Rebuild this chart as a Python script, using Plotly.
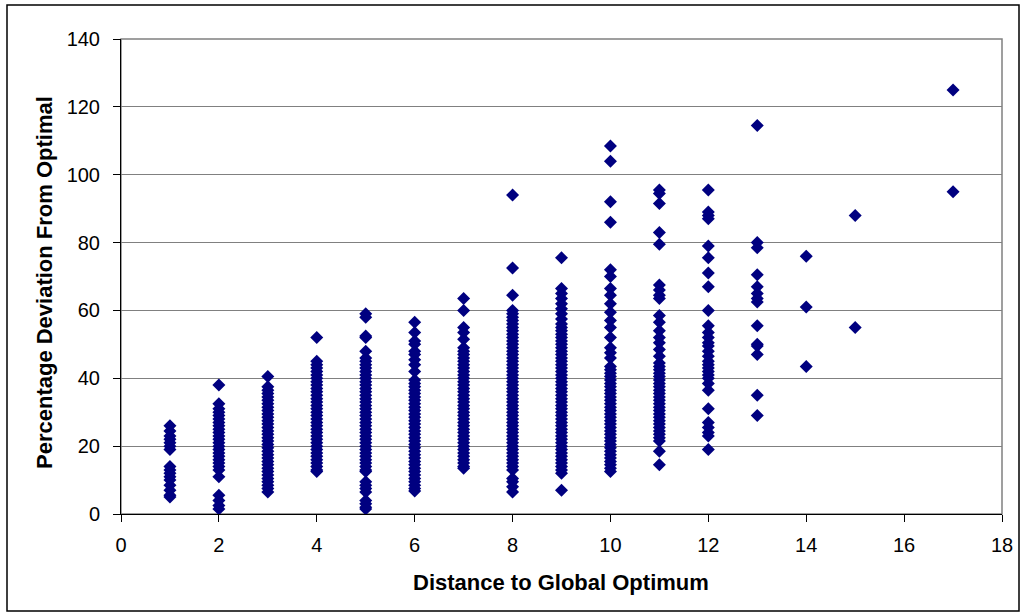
import plotly.graph_objects as go

# Percentage deviation from optimal, grouped by distance to the global optimum
dev_d1 = [26, 24.5, 23, 22, 21, 20, 19, 14, 13, 12, 11, 10, 8.5, 7, 5.5, 5]
dev_d2 = [38, 32.5, 31, 30, 29, 28, 27, 26, 25, 24, 23, 22, 21, 20, 19, 18, 17,
          16, 15, 14, 13, 11, 5.5, 4, 2.5, 1.5]
dev_d3 = [40.5, 37.5, 36.5, 35.5, 34.5, 33.5, 32.5, 31.5, 30.5, 29.5, 28.5, 27.5,
          26.5, 25.5, 24.5, 23.5, 22.5, 21.5, 20.5, 19.5, 18.5, 17.5, 16.5, 15.5,
          14.5, 13.5, 12.5, 11.5, 10.5, 9.5, 8.5, 7.5, 6.5]
dev_d4 = [52, 45, 44, 43, 42, 41, 40, 39, 38, 37, 36, 35, 34, 33, 32, 31, 30, 29,
          28, 27, 26, 25, 24, 23, 22, 21, 20, 19, 18, 17, 16, 15, 14, 13, 12.5]
dev_d5 = [59, 58, 52.5, 52, 48, 46, 45, 44, 43, 42, 41, 40, 39, 38, 37, 36, 35, 34,
          33, 32, 31, 30, 29, 28, 27, 26, 25, 24, 23, 22, 21, 20, 19, 18, 17, 16,
          15, 14, 13, 12.5, 9.5, 8.5, 7.5, 6.5, 4, 3, 2, 1.5]
dev_d6 = [56.5, 53.5, 51, 50, 48, 47, 45.5, 44, 42, 39.5, 38.5, 37.5, 36.5, 35.5,
          34.5, 33.5, 32.5, 31.5, 30.5, 29.5, 28.5, 27.5, 26.5, 25.5, 24.5, 23.5,
          22.5, 21.5, 20.5, 19.5, 18.5, 17.5, 16.5, 15.5, 14.5, 13.5, 12.5, 11.5,
          10.5, 9.5, 8.5, 7.5, 6.8]
dev_d7 = [63.5, 60, 55, 53.5, 51.5, 49, 48, 47, 46, 45, 44, 43, 42, 41, 40, 39, 38,
          37, 36, 35, 34, 33, 32, 31, 30, 29, 28, 27, 26, 25, 24, 23, 22, 21, 20,
          19, 18, 17, 16, 15, 14, 13.5]
dev_d8 = [94, 72.5, 64.5, 60, 59, 58, 57, 56, 55, 54, 53, 52, 51, 50, 49, 48, 47,
          46, 45, 44, 43, 42, 41, 40, 39, 38, 37, 36, 35, 34, 33, 32, 31, 30, 29,
          28, 27, 26, 25, 24, 23, 22, 21, 20, 19, 18, 17, 16, 15, 14, 13, 10.5,
          9.5, 8, 6.5]
dev_d9 = [75.5, 66.5, 65, 63.5, 62, 60.5, 59, 57.5, 56, 55, 54, 53, 52, 51, 50, 49,
          48, 47, 46, 45, 44, 43, 42, 41, 40, 39, 38, 37, 36, 35, 34, 33, 32, 31,
          30, 29, 28, 27, 26, 25, 24, 23, 22, 21, 20, 19, 18, 17, 16, 15, 14, 13,
          12, 7]
dev_d10 = [108.5, 104, 92, 86, 72, 70, 66.5, 64.5, 62, 59.5, 57, 55, 52, 49, 47.5,
           46, 43.5, 42.5, 41.5, 40.5, 39.5, 38.5, 37.5, 36.5, 35.5, 34.5, 33.5,
           32.5, 31.5, 30.5, 29.5, 28.5, 27.5, 26.5, 25.5, 24.5, 23.5, 22.5, 21.5,
           20.5, 19.5, 18.5, 17.5, 16.5, 15.5, 14.5, 13.5, 12.5]
dev_d11 = [95.5, 94.5, 91.5, 83, 79.5, 67.5, 66, 64.5, 63.5, 58.5, 56.5, 54, 52,
           50.5, 48.5, 46.5, 44.5, 43.5, 42.5, 41.5, 40.5, 39.5, 38.5, 37.5, 36.5,
           35.5, 34.5, 33.5, 32.5, 31.5, 30.5, 29.5, 28.5, 27.5, 26.5, 25.5, 24.5,
           23.5, 22.5, 21.5, 18.5, 14.5]
dev_d12 = [95.5, 89, 88, 87, 79, 75.5, 71, 67, 60, 55.5, 53.5, 52, 50.5, 49.5, 48,
           46.5, 45, 44, 43, 42, 41, 40, 38.5, 36.5, 31, 27, 25.5, 24, 23, 19]
dev_d13 = [114.5, 80, 78.5, 70.5, 67, 65, 63.5, 62.5, 55.5, 50, 49.5, 47, 35, 29]
dev_d14 = [76, 61, 43.5]
dev_d15 = [88, 55]
dev_d17 = [125, 95]

distances = [1, 2, 3, 4, 5, 6, 7, 8, 9, 10, 11, 12, 13, 14, 15, 17]
deviations = [dev_d1, dev_d2, dev_d3, dev_d4, dev_d5, dev_d6, dev_d7, dev_d8,
              dev_d9, dev_d10, dev_d11, dev_d12, dev_d13, dev_d14, dev_d15, dev_d17]

x_vals, y_vals = [], []
for d, devs in zip(distances, deviations):
    x_vals.extend([d] * len(devs))
    y_vals.extend(devs)

NAVY = "#000080"
FONT = "Liberation Sans, Arial, sans-serif"

fig = go.Figure(go.Scatter(
    x=x_vals, y=y_vals, mode="markers",
    marker=dict(symbol="diamond", size=10, color=NAVY, line=dict(width=0)),
    showlegend=False, hoverinfo="x+y",
))

W, H = 1023, 615
L, R, T, B = 121, 21, 39, 101
pw, ph = W - L - R, H - T - B

fig.update_layout(
    width=W, height=H,
    margin=dict(l=L, r=R, t=T, b=B, autoexpand=False),
    paper_bgcolor="white", plot_bgcolor="white",
    font=dict(family=FONT, size=20, color="black"),
    xaxis=dict(range=[0, 18], dtick=2, tick0=0, showgrid=False, zeroline=False,
               showline=True, linecolor="black", linewidth=1,
               ticks="outside", ticklen=7, tickcolor="black",
               ticklabelstandoff=6, tickfont=dict(size=20)),
    yaxis=dict(range=[0, 140], dtick=20, tick0=0, showgrid=True,
               gridcolor="#808080", gridwidth=1, zeroline=False,
               showline=True, linecolor="black", linewidth=1,
               ticks="outside", ticklen=7, tickcolor="black",
               ticklabelstandoff=9, tickfont=dict(size=20)),
    shapes=[
        # plot-area frame (top/right edges)
        dict(type="rect", xref="paper", yref="paper", x0=0, x1=1, y0=0, y1=1,
             line=dict(color="#808080", width=1.5), layer="below"),
        # outer chart border
        dict(type="rect", xref="paper", yref="paper",
             x0=(7 - L) / pw, x1=(1019 - L) / pw,
             y0=(H - B - 611) / ph, y1=(H - B - 5) / ph,
             line=dict(color="black", width=1.5)),
    ],
    annotations=[
        dict(text="<b>Distance to Global Optimum</b>", xref="paper", yref="paper",
             x=(561 - L) / pw, y=(H - B - 582) / ph, showarrow=False,
             xanchor="center", yanchor="middle", font=dict(size=22)),
        dict(text="<b>Percentage Deviation From Optimal</b>", xref="paper",
             yref="paper", x=(44 - L) / pw, y=(H - B - 283) / ph, showarrow=False,
             textangle=-90, xanchor="center", yanchor="middle",
             font=dict(size=22)),
    ],
)

fig.write_html("out.html")
